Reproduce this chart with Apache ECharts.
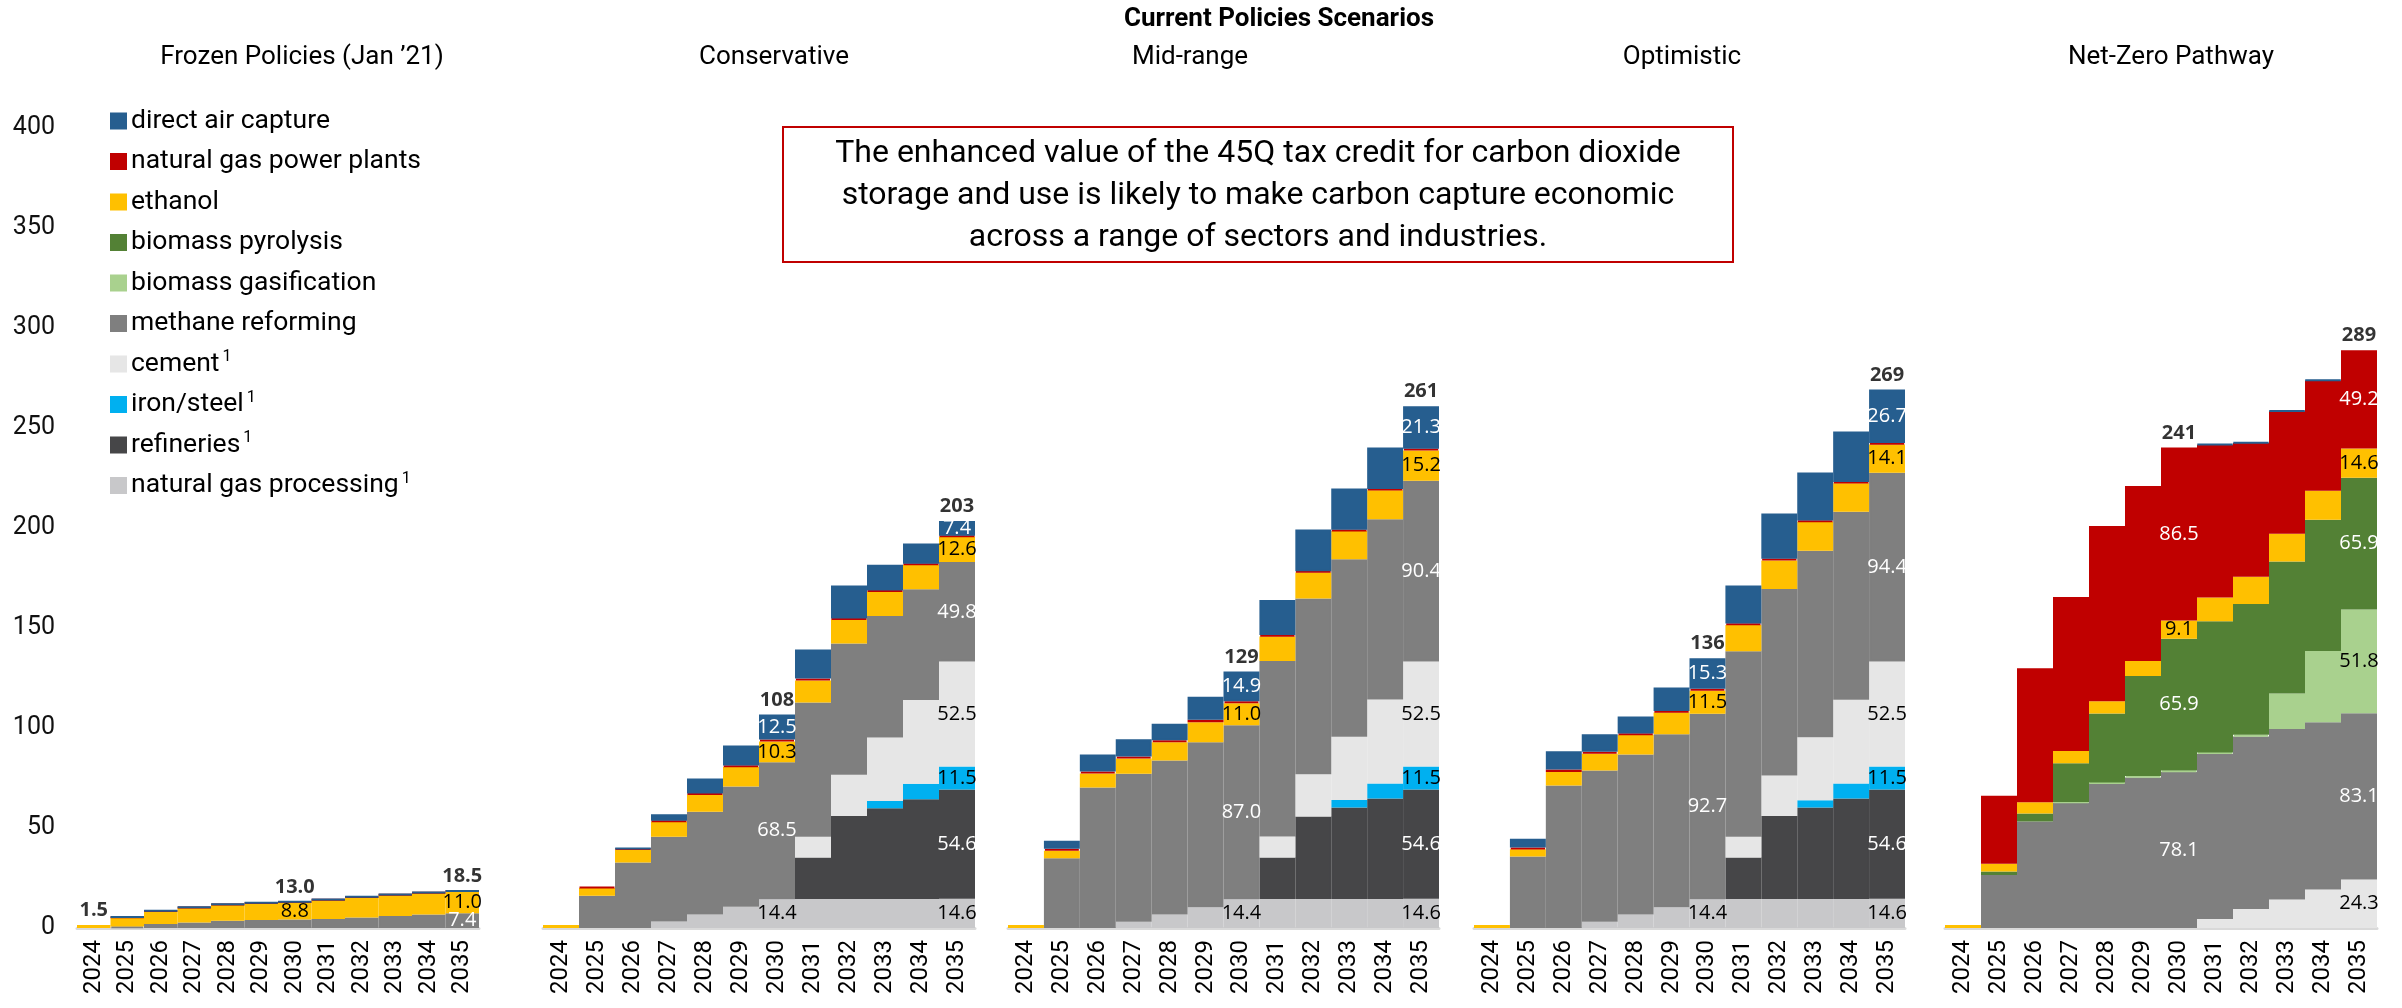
<!DOCTYPE html>
<html lang="en">
<head>
<meta charset="UTF-8">
<title>Carbon capture scenarios</title>
<script src="https://cdn.jsdelivr.net/npm/echarts@6/dist/echarts.min.js"></script>
<style>
    html, body { margin: 0; padding: 0; background: #fff; }
    #main { width: 2402px; height: 1008px; }
</style>
</head>
<body>
<div id="main"></div>
<script>
var years = ['2024', '2025', '2026', '2027', '2028', '2029', '2030', '2031', '2032', '2033', '2034', '2035'];
var yTicks = [0, 50, 100, 150, 200, 250, 300, 350, 400];

// stack order, bottom to top
var seriesNames = ['natural gas processing', 'refineries', 'iron/steel', 'cement', 'methane reforming',
    'biomass gasification', 'biomass pyrolysis', 'ethanol', 'natural gas power plants', 'direct air capture'];
var seriesKeys = ['ngp', 'refineries', 'ironSteel', 'cement', 'methane', 'gasification', 'pyrolysis', 'ethanol', 'gasPower', 'dac'];
var seriesColors = ['#c8c8ca', '#464648', '#00b0f0', '#e6e6e6', '#7f7f7f', '#a9d18e', '#538135', '#ffc000', '#c00000', '#265e8f'];
var labelColors = ['#000', '#fff', '#000', '#000', '#fff', '#000', '#fff', '#000', '#fff', '#fff'];
var footnoted = ['cement', 'iron/steel', 'refineries', 'natural gas processing'];
var zeros = [0, 0, 0, 0, 0, 0, 0, 0, 0, 0, 0, 0];

var frozen = {
    ngp: zeros, refineries: zeros, ironSteel: zeros, cement: zeros,
    methane:   [0, 0.8, 2.0, 2.8, 3.6, 4.0, 4.2, 4.5, 5.2, 6.0, 6.8, 7.4],
    gasification: zeros, pyrolysis: zeros,
    ethanol:   [1.5, 4.5, 6.4, 7.3, 8.0, 8.4, 8.8, 9.6, 10.3, 10.6, 10.8, 11.0],
    gasPower:  [0, 0.1, 0.2, 0.2, 0.2, 0.2, 0.1, 0.1, 0.1, 0.1, 0.1, 0.1],
    dac:       [0, 0.1, 0.1, 0.1, 0.1, 0.1, 0.1, 0.1, 0.1, 0.1, 0.1, 0.1]
};
var conservative = {
    ngp:        [0, 0, 0, 3.2, 6.8, 10.6, 14.4, 14.5, 14.5, 14.5, 14.5, 14.6],
    refineries: [0, 0, 0, 0, 0, 0, 0, 20.7, 41.5, 45.4, 49.9, 54.6],
    ironSteel:  [0, 0, 0, 0, 0, 0, 0, 0, 0, 3.6, 7.7, 11.5],
    cement:     [0, 0, 0, 0, 0, 0, 0, 10.4, 20.6, 31.7, 41.9, 52.5],
    methane:    [0, 16.1, 32.7, 42.4, 51.3, 60.1, 68.5, 67.1, 65.6, 60.8, 55.4, 49.8],
    gasification: zeros, pyrolysis: zeros,
    ethanol:    [1.5, 3.9, 6.6, 7.5, 8.6, 9.8, 10.3, 11.1, 12.0, 12.2, 12.2, 12.6],
    gasPower:   [0, 0.5, 0.4, 0.5, 0.5, 0.7, 1.0, 0.9, 0.5, 0.5, 0.5, 0.5],
    dac:        [0, 0, 0.2, 3.3, 7.6, 10.0, 12.5, 14.5, 16.5, 12.9, 10.2, 7.4]
};
var midRange = {
    ngp:        [0, 0, 0, 3.1, 6.7, 10.4, 14.4, 14.5, 14.5, 14.5, 14.5, 14.6],
    refineries: [0, 0, 0, 0, 0, 0, 0, 20.8, 41.2, 45.8, 50.2, 54.6],
    ironSteel:  [0, 0, 0, 0, 0, 0, 0, 0, 0, 3.7, 7.6, 11.5],
    cement:     [0, 0, 0, 0, 0, 0, 0, 10.4, 21.2, 31.6, 42.0, 52.5],
    methane:    [0, 34.9, 70.3, 74.0, 77.1, 82.5, 87.0, 87.8, 87.8, 88.8, 90.1, 90.4],
    gasification: zeros, pyrolysis: zeros,
    ethanol:    [1.5, 3.7, 6.9, 7.7, 9.1, 10.0, 11.0, 12.2, 13.1, 14.1, 14.5, 15.2],
    gasPower:   [0, 1.0, 1.0, 1.0, 1.0, 1.2, 1.0, 0.8, 0.6, 0.6, 0.6, 0.8],
    dac:        [0, 4.0, 8.5, 8.6, 8.2, 11.5, 14.9, 17.5, 20.8, 20.7, 20.8, 21.3]
};
var optimistic = {
    ngp:        [0, 0, 0, 3.1, 6.8, 10.4, 14.4, 14.5, 14.5, 14.5, 14.5, 14.6],
    refineries: [0, 0, 0, 0, 0, 0, 0, 20.8, 41.5, 45.7, 50.2, 54.6],
    ironSteel:  [0, 0, 0, 0, 0, 0, 0, 0, 0, 3.7, 7.5, 11.5],
    cement:     [0, 0, 0, 0, 0, 0, 0, 10.3, 20.3, 31.5, 41.9, 52.5],
    methane:    [0, 35.7, 71.2, 75.7, 79.9, 86.5, 92.7, 92.8, 93.2, 93.2, 94.0, 94.4],
    gasification: zeros, pyrolysis: zeros,
    ethanol:    [1.5, 3.7, 6.8, 8.3, 9.8, 10.8, 11.5, 13.1, 14.3, 14.5, 14.3, 14.1],
    gasPower:   [0, 0.8, 1.2, 1.0, 0.8, 0.8, 1.0, 0.8, 0.8, 0.6, 0.6, 0.8],
    dac:        [0, 4.4, 9.2, 8.8, 8.5, 11.8, 15.3, 18.9, 22.7, 24.1, 25.3, 26.7]
};
var netZero = {
    ngp: zeros, refineries: zeros, ironSteel: zeros,
    cement:       [0, 0, 0, 0, 0, 0, 0, 4.5, 9.5, 14.3, 19.2, 24.3],
    methane:      [0, 26.5, 53.2, 62.7, 72.4, 75.3, 78.1, 82.6, 86.2, 85.2, 83.7, 83.1],
    gasification: [0, 0, 0, 0.3, 0.3, 0.7, 0.6, 0.7, 0.9, 17.7, 35.6, 51.8],
    pyrolysis:    [0, 1.8, 4.0, 19.4, 34.6, 50.0, 65.9, 65.6, 65.4, 66.1, 65.6, 65.9],
    ethanol:      [1.5, 3.8, 5.7, 6.1, 6.1, 7.5, 9.1, 11.8, 13.6, 13.8, 14.5, 14.6],
    gasPower:     [0, 34.0, 67.0, 77.0, 87.6, 87.5, 86.5, 76.4, 66.9, 61.3, 55.2, 49.2],
    dac:          [0, 0, 0, 0, 0, 0, 0, 0.3, 0.3, 0.2, 0.2, 0]
};

// bold totals above the bars: index -> text
var frozenTotals = {0: '1.5', 6: '13.0', 11: '18.5'};
var conservativeTotals = {6: '108', 11: '203'};
var midRangeTotals = {6: '129', 11: '261'};
var optimisticTotals = {6: '136', 11: '269'};
var netZeroTotals = {6: '241', 11: '289'};

var labelledYears = [6, 11];   // 2030 and 2035 carry segment labels
var minLabelValue = 5;

var panelTitles = ['Frozen Policies (Jan \u201921)', 'Conservative', 'Mid-range', 'Optimistic', 'Net-Zero Pathway'];
var noteText = 'The enhanced value of the 45Q tax credit for carbon dioxide\nstorage and use is likely to make carbon capture economic\nacross a range of sectors and industries.';

var panels = [
    {data: frozen, totals: frozenTotals, left: 77, width: 402, titleX: 302},
    {data: conservative, totals: conservativeTotals, left: 543, width: 432, titleX: 774},
    {data: midRange, totals: midRangeTotals, left: 1008, width: 431, titleX: 1190},
    {data: optimistic, totals: optimisticTotals, left: 1474, width: 431, titleX: 1682},
    {data: netZero, totals: netZeroTotals, left: 1945, width: 432, titleX: 2171}
];

var FONT = 'Roboto, "Liberation Sans", sans-serif';
var LABEL_FONT = '"Open Sans", "DejaVu Sans", sans-serif';

var grids = [], xAxes = [], yAxes = [], series = [];

panels.forEach(function (p, gi) {
    grids.push({left: p.left, width: p.width, top: 128, height: 800});
    xAxes.push({
        type: 'category', gridIndex: gi, data: years,
        axisTick: {show: false},
        axisLine: {lineStyle: {color: '#d9d9d9', width: 3}},
        axisLabel: {rotate: 90, fontSize: 24, fontFamily: FONT, color: '#000', margin: 12, interval: 0}
    });
    yAxes.push({
        type: 'value', gridIndex: gi, min: 0, max: 400, interval: 50,
        splitLine: {show: false}, axisLine: {show: false}, axisTick: {show: false},
        axisLabel: {show: gi === 0, fontSize: 25, fontFamily: FONT, color: '#111', margin: 22}
    });

    seriesKeys.forEach(function (key, si) {
        series.push({
            type: 'bar', name: seriesNames[si], xAxisIndex: gi, yAxisIndex: gi,
            stack: 'panel' + gi, barCategoryGap: '0%',
            // empty cells instead of zero-height bars, so no stray outlines
            data: p.data[key].map(function (v) { return v === 0 ? '-' : v; }),
            // same-colour border closes the anti-aliasing seams between touching bars
            itemStyle: {color: seriesColors[si], borderColor: seriesColors[si], borderWidth: 2},
            label: {
                show: true, position: 'inside', color: labelColors[si],
                fontFamily: LABEL_FONT, fontSize: 20,
                formatter: function (prm) {
                    if (labelledYears.indexOf(prm.dataIndex) < 0 || prm.value < minLabelValue) return '';
                    return prm.value.toFixed(1);
                }
            },
            emphasis: {disabled: true}
        });
    });

    // totals drawn as invisible points at the stack top
    var pts = [];
    Object.keys(p.totals).forEach(function (k) {
        var idx = +k, sum = 0;
        seriesKeys.forEach(function (key) { sum += p.data[key][idx]; });
        pts.push({value: [idx, sum], text: p.totals[k]});
    });
    series.push({
        type: 'scatter', name: 'total', xAxisIndex: gi, yAxisIndex: gi,
        symbolSize: 1, itemStyle: {color: 'rgba(0,0,0,0)'},
        data: pts,
        label: {
            show: true, position: 'top', distance: 4,
            fontFamily: LABEL_FONT, fontSize: 20, fontWeight: 'bold', color: '#000',
            formatter: function (prm) { return prm.data.text; }
        },
        emphasis: {disabled: true}, silent: true, z: 5
    });
});

var graphics = [
    {type: 'text', x: 1279, y: 19, style: {text: 'Current Policies Scenarios', align: 'center', verticalAlign: 'middle',
        font: 'bold 26px ' + FONT, fill: '#000'}},
    {type: 'rect', shape: {x: 783, y: 127, width: 950, height: 135},
        style: {fill: '#fff', stroke: '#c00000', lineWidth: 2}, z: 10},
    {type: 'text', x: 1258, y: 196, z: 11, style: {text: noteText, align: 'center', verticalAlign: 'middle',
        font: '32px ' + FONT, lineHeight: 42, fill: '#000'}}
];
panels.forEach(function (p, gi) {
    graphics.push({type: 'text', x: p.titleX, y: 57, style: {text: panelTitles[gi], align: 'center',
        verticalAlign: 'middle', font: '26px ' + FONT, fill: '#000'}});
});

var chart = echarts.init(document.getElementById('main'));
chart.setOption({
    animation: false,
    backgroundColor: '#fff',
    grid: grids,
    xAxis: xAxes,
    yAxis: yAxes,
    legend: {
        orient: 'vertical', left: 105, top: 101,
        data: seriesNames.slice().reverse(),
        icon: 'rect', itemWidth: 15, itemHeight: 15, itemGap: 10.5,
        selectedMode: false,
        textStyle: {
            fontSize: 26.5, fontFamily: FONT, color: '#000', lineHeight: 30,
            rich: {sup: {fontSize: 16, fontFamily: FONT, color: '#000', verticalAlign: 'top', lineHeight: 14, padding: [0, 0, 0, 3]}}
        },
        formatter: function (name) {
            return footnoted.indexOf(name) >= 0 ? name + '{sup|1}' : name;
        }
    },
    graphic: graphics,
    series: series
});
</script>
</body>
</html>
